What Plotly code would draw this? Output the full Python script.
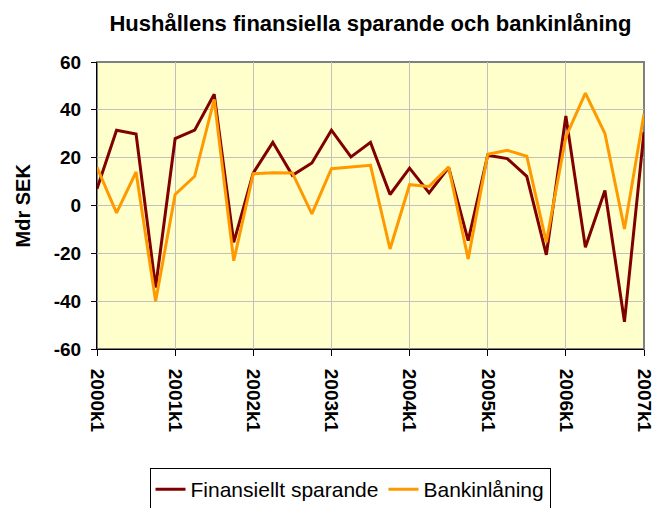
import plotly.graph_objects as go

# Quarters 2000k1 .. 2007k1
quarters = [f"{y}k{q}" for y in range(2000, 2007) for q in range(1, 5)] + ["2007k1"]
year_ticks = [f"{y}k1" for y in range(2000, 2008)]
y_ticks = [-60, -40, -20, 0, 20, 40, 60]
y_ticktext = [str(v) for v in y_ticks]

finansiellt_sparande = [7.0, 31.5, 29.9, -34.3, 28.0, 31.5, 46.5, -15.4, 13.6, 26.4,
                        12.6, 17.8, 31.5, 20.3, 26.4, 4.6, 15.6, 5.3, 15.9, -14.7,
                        21.0, 19.6, 12.2, -20.6, 37.4, -17.5, 6.3, -48.6, 30.8]
bankinlaning = [16.0, -3.1, 14.0, -40.0, 4.6, 12.2, 44.4, -23.1, 13.3, 13.7,
                13.6, -3.5, 15.4, 16.2, 16.8, -18.2, 8.7, 8.0, 16.1, -22.4,
                21.4, 23.1, 20.6, -15.4, 28.7, 47.0, 30.1, -9.8, 38.3]

FONT = "Liberation Sans, Arial, sans-serif"

trace0 = go.Scatter(x=quarters, y=finansiellt_sparande, mode="lines",
                    name="Finansiellt sparande",
                    line=dict(color="#800000", width=3))
trace1 = go.Scatter(x=quarters, y=bankinlaning, mode="lines",
                    name="Bankinlåning",
                    line=dict(color="#FF9900", width=3))

layout = go.Layout(
    width=655, height=508,
    margin=dict(l=97, r=11, t=62, b=159),
    paper_bgcolor="white",
    plot_bgcolor="#FFFFCC",
    font=dict(family=FONT, color="black"),
    title=dict(text="Hushållens finansiella sparande och bankinlåning",
               x=(97 + 547 / 2) / 655, xanchor="center", y=1 - 23 / 508, yanchor="middle",
               font=dict(size=22, weight="bold")),
    xaxis=dict(type="category", range=[0, 28], tickmode="array", tickvals=year_ticks,
               ticktext=year_ticks, tickangle=90, tickfont=dict(size=19, weight="bold"),
               showgrid=True, gridcolor="#C0C0C0", gridwidth=1,
               showline=True, linecolor="black", linewidth=1,
               ticks="outside", ticklen=6, tickcolor="black", zeroline=False,
               ticklabelstandoff=9, automargin=False),
    # inner half of the crossing tick marks
    xaxis2=dict(range=[0, 28], overlaying="x", side="bottom", tickmode="linear",
                tick0=0, dtick=4, ticks="inside", ticklen=6, tickcolor="black",
                showticklabels=False, showgrid=False, zeroline=False, showline=False),
    yaxis=dict(range=[-60, 60], tickmode="array", tickvals=y_ticks, ticktext=y_ticktext,
               tickfont=dict(size=19, weight="bold"),
               showgrid=True, gridcolor="#C0C0C0", gridwidth=1,
               showline=True, linecolor="black", linewidth=1,
               ticks="outside", ticklen=5, tickcolor="black", zeroline=False,
               ticklabelstandoff=6, automargin=False),
    legend=dict(orientation="h", x=(350 - 97) / 547, xanchor="center",
                yref="container", y=1 - 468 / 508, yanchor="top",
                bordercolor="black", borderwidth=1, bgcolor="white",
                font=dict(size=21), tracegroupgap=0),
    showlegend=True,
    shapes=[dict(type="rect", xref="paper", yref="paper", x0=0, x1=1, y0=0, y1=1,
                 line=dict(color="#808080", width=2), layer="below")],
    annotations=[dict(text="<b>Mdr SEK</b>", textangle=-90, xref="paper", yref="paper",
                      x=(22 - 97) / 547, y=0.5, xanchor="center", yanchor="middle",
                      showarrow=False, font=dict(size=20))],
)

fig = go.Figure(data=[trace0, trace1], layout=layout)
# drop the browser's default 8px page margin so the figure sits at the window corner
fig.write_html("out.html", config={"displayModeBar": False},
               post_script="document.body.style.margin='0';")
